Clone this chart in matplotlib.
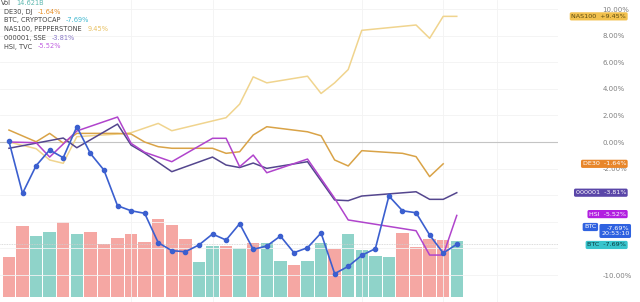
import matplotlib
matplotlib.use("Agg")
import matplotlib.pyplot as plt
import matplotlib.transforms as mtransforms

# volume bars (billions), one per day
vol = [10.4, 18.5, 15.9, 17.0, 19.6, 16.4, 17.0, 13.8, 15.4, 16.4, 14.4, 20.4,
       18.8, 15.1, 9.1, 13.3, 13.3, 12.8, 14.1, 14.1, 9.4, 8.4, 9.4, 14.1,
       12.5, 16.4, 12.3, 10.7, 10.4, 16.7, 13.1, 15.1, 14.9, 14.621]
vol_up = [0, 0, 1, 1, 0, 1, 0, 0, 0, 0, 0, 0, 0, 0, 1, 1, 0, 1, 0, 1,
          1, 0, 1, 1, 0, 1, 1, 1, 1, 0, 0, 0, 0, 1]

# BTC % change, daily
btc = [0.05, -3.86, -1.78, -0.60, -1.18, 1.15, -0.86, -2.11, -4.79, -5.17,
       -5.36, -7.57, -8.17, -8.25, -7.74, -6.92, -7.37, -6.14, -8.07, -7.82,
       -7.07, -8.32, -7.95, -6.84, -9.90, -9.35, -8.52, -8.02, -4.06, -5.17,
       -5.32, -6.99, -8.35, -7.69]

# indices (trading days only)
nas_x = [0, 2, 3, 4, 5, 8, 9, 10, 11, 12, 16, 17, 18, 19, 22, 23, 24, 25, 26, 28, 30, 31, 32, 33]
nas = [0.0, -0.5, -1.35, -1.6, 0.4, 0.6, 0.7, 1.05, 1.4, 0.85, 1.83, 2.85, 4.9, 4.45,
       4.95, 3.65, 4.45, 5.45, 8.4, 8.6, 8.8, 7.8, 9.45, 9.45]

de_x = [0, 2, 3, 4, 5, 8, 9, 10, 11, 12, 15, 16, 17, 18, 19, 22, 23, 24, 25, 26, 29, 30, 31, 32]
de30 = [0.9, 0.02, 0.65, -0.08, 0.65, 0.65, 0.6, 0.0, -0.35, -0.47, -0.47, -0.85, -0.73,
        0.53, 1.15, 0.77, 0.47, -1.35, -1.8, -0.65, -0.85, -1.1, -2.6, -1.64]

hsi_x = [0, 2, 3, 5, 8, 9, 10, 12, 15, 16, 17, 18, 19, 22, 24, 25, 30, 31, 32, 33]
hsi = [0.0, -0.05, -1.13, 0.83, 1.88, -0.1, -0.77, -1.48, 0.28, 0.28, -1.86, -0.98,
       -2.31, -1.28, -4.23, -5.86, -6.67, -8.5, -8.5, -5.52]

sse_x = [0, 4, 5, 8, 9, 10, 12, 15, 16, 17, 18, 19, 22, 24, 25, 26, 30, 31, 32, 33]
sse = [-0.47, 0.3, -0.43, 1.35, -0.23, -0.83, -2.23, -1.13, -1.73, -1.92, -1.58, -1.98,
       -1.48, -4.36, -4.41, -4.06, -3.74, -4.31, -4.31, -3.81]

grid_y = [10, 8, 6, 4, 2, 0, -2, -4, -6, -8, -10]
yticks = [10, 8, 6, 4, 2, 0, -2, -10]   # the rest sit under the value tags
vgrid = [9, 15, 26, 32, 36]

c_up, c_dn = "#8fd3c9", "#f5a7a3"
c_btc, c_de, c_nas, c_sse, c_hsi = "#3b5fcf", "#d9a347", "#f0d48e", "#54468e", "#b044cc"

fig = plt.figure(figsize=(6.4, 3.02), dpi=100)
ax = fig.add_axes([0, 0, 558 / 640, 1])
axv = ax.twinx()
ax.set_zorder(2)
ax.patch.set_visible(False)

# volume
xs = list(range(len(vol)))
axv.bar(xs, vol, width=0.92, color=[c_up if u else c_dn for u in vol_up])
axv.set_ylim(-1.3, 77.5)
axv.axis("off")

ax.set_xlim(-0.66, 40.46)
ax.set_ylim(-12.03, 10.68)
for y in grid_y:
    ax.axhline(y, color="#f3f3f3", lw=0.6, zorder=0)
for x in vgrid:
    ax.axvline(x, color="#f3f3f3", lw=0.6, zorder=0)
ax.axhline(0, color="#c4c4c4", lw=0.8, zorder=1)
ax.axhline(btc[-1], color="#d0d0d0", lw=0.6, ls=(0, (1, 1)), zorder=1)

ax.plot(nas_x, nas, color=c_nas, lw=1.1)
ax.plot(de_x, de30, color=c_de, lw=1.1)
ax.plot(sse_x, sse, color=c_sse, lw=1.1)
ax.plot(hsi_x, hsi, color=c_hsi, lw=1.1)
ax.plot(xs, btc, color=c_btc, lw=1.2, marker="o", ms=3)

for s in ax.spines.values():
    s.set_visible(False)
ax.set_xticks([])
ax.set_yticks(yticks)
ax.set_yticklabels([f"{v:.2f}%" for v in yticks])
ax.tick_params(axis="y", left=False, labelleft=False, right=True, labelright=True,
               length=0, pad=32, labelsize=5, labelcolor="#808080")

# right-side value labels
tr = mtransforms.blended_transform_factory(ax.transAxes, ax.transData)
def tag(x, y, s, fc, tc="white"):
    ax.text(x, y, s, transform=tr, ha="right", va="center", fontsize=4.6, color=tc,
            clip_on=False, zorder=5,
            bbox=dict(boxstyle="round,pad=0.25", fc=fc, ec="none"))

tag(1.122, nas[-1], f"NAS100  +{nas[-1]:.2f}%", "#f2c14e", "#5a4a10")
tag(1.122, de30[-1], f"DE30  {de30[-1]:.2f}%", "#e8862a")
tag(1.122, sse[-1], f"000001  {sse[-1]:.2f}%", "#5a46a8")
tag(1.122, hsi[-1] + 0.1, f"HSI  {hsi[-1]:.2f}%", "#b21fe0")
tag(1.128, btc[-1] + 1.0, f"{btc[-1]:.2f}%\n20:53:10", "#2f62e0")
tag(1.069, btc[-1] + 1.3, "BTC", "#2f62e0")
tag(1.122, btc[-1] - 0.05, f"BTC  {btc[-1]:.2f}%", "#38c4cc", "#0a3a40")

# top-left legend
rows = [("Vol", f"{vol[-1]:.3f}B", "#5fb8b0"),
        ("DE30, DJ", f"{de30[-1]:.2f}%", "#e8902a"),
        ("BTC, CRYPTOCAP", f"{btc[-1]:.2f}%", "#40b8d0"),
        ("NAS100, PEPPERSTONE", f"{nas[-1]:.2f}%", "#e8c060"),
        ("000001, SSE", f"{sse[-1]:.2f}%", "#8a7ac8"),
        ("HSI, TVC", f"{hsi[-1]:.2f}%", "#c060e0")]
for k, (name, val, col) in enumerate(rows):
    y = 1 - (3 + 8.7 * k) / 302
    t = fig.text(4 / 640 if k else 1 / 640, y, name, fontsize=4.8, color="#444444", va="center")
    ax.annotate(val, xy=(1, 0.5), xycoords=t, xytext=(4, 0), textcoords="offset points",
                fontsize=4.8, color=col, va="center")

fig.savefig("out.png", dpi=100)
